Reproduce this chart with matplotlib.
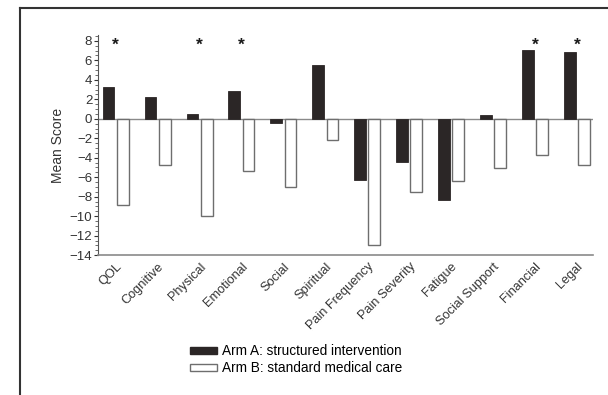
import matplotlib
matplotlib.use("Agg")
import matplotlib.pyplot as plt
import matplotlib.transforms as mtransforms
from matplotlib.patches import Patch
from matplotlib.lines import Line2D
from matplotlib.ticker import MultipleLocator
import numpy as np

plt.rcParams['font.family'] = ['Liberation Sans', 'DejaVu Sans']

categories = ["QOL", "Cognitive", "Physical", "Emotional", "Social", "Spiritual",
              "Pain Frequency", "Pain Severity", "Fatigue", "Social Support",
              "Financial", "Legal"]
arm_a = [3.3, 2.2, 0.5, 2.8, -0.4, 5.5, -6.3, -4.4, -8.3, 0.4, 7.1, 6.8]
arm_b = [-8.9, -4.7, -10.0, -5.4, -7.0, -2.2, -13.0, -7.5, -6.4, -5.1, -3.7, -4.7]
significant = ["QOL", "Physical", "Emotional", "Financial", "Legal"]
star_level = 7.5
yticks = list(range(-14, 9, 2))

fig = plt.figure(figsize=(6.08, 3.95), dpi=100)
ax = fig.add_axes([0.162, 0.354, 0.813, 0.557])

x = np.arange(len(categories))
w = 0.28
off = 0.17
ax.bar(x - off, arm_a, w, color='#2b2626', edgecolor='#2b2626', linewidth=0.6, zorder=3)
ax.bar(x + off, arm_b, w, color='white', edgecolor='#6e6e6e', linewidth=1.0, zorder=3)
ax.axhline(0, color='#8a8a8a', linewidth=1.0, zorder=2)

for i, c in enumerate(categories):
    if c in significant:
        ax.text(i, star_level, '*', ha='center', va='center', fontsize=12.5,
                color='#1a1a1a', fontweight='bold')

ax.set_xlim(-0.41, 11.38)
ax.set_ylim(-14, 8.58)
ax.set_yticks(yticks)
ax.set_yticklabels([str(t).replace('-', '\u2212') for t in yticks])
ax.yaxis.set_minor_locator(MultipleLocator(0.5))
ax.set_xticks(x)
ax.set_xticklabels(categories, rotation=45, ha='right', rotation_mode='anchor')
shift = mtransforms.ScaledTranslation(-4/100, 0, fig.dpi_scale_trans)
for lbl in ax.get_xticklabels():
    lbl.set_transform(lbl.get_transform() + shift)
ax.tick_params(axis='x', length=0, pad=4, labelsize=9.2, colors='#333333')
ax.tick_params(axis='y', which='major', length=3, width=0.8, pad=1.5, labelsize=9.5,
               colors='#333333', direction='out')
ax.tick_params(axis='y', which='minor', length=2, width=0.6, direction='out', colors='#555555')
ax.set_ylabel('Mean Score', fontsize=10, color='#333333', labelpad=3)

for s in ['top', 'right']:
    ax.spines[s].set_visible(False)
ax.spines['left'].set_color('#555555')
ax.spines['left'].set_linewidth(0.8)
ax.spines['bottom'].set_color('#8a8a8a')
ax.spines['bottom'].set_linewidth(1.2)

handles = [Patch(facecolor='#2b2626', edgecolor='#2b2626'),
           Patch(facecolor='white', edgecolor='#6e6e6e')]
fig.legend(handles, ["Arm A: structured intervention", "Arm B: standard medical care"],
           loc='upper left', bbox_to_anchor=(0.312, 0.128), frameon=False,
           fontsize=9.8, handlelength=2.0, handleheight=0.45, labelspacing=0.2,
           handletextpad=0.4, borderaxespad=0, borderpad=0)

# page frame (left and top edges)
fig.add_artist(Line2D([20/608, 20/608], [0, 1 - 8/395], color='#333333', linewidth=1.5,
                      transform=fig.transFigure))
fig.add_artist(Line2D([20/608, 1], [1 - 8/395, 1 - 8/395], color='#333333', linewidth=1.5,
                      transform=fig.transFigure))

fig.savefig('out.png', dpi=100, facecolor='white')
